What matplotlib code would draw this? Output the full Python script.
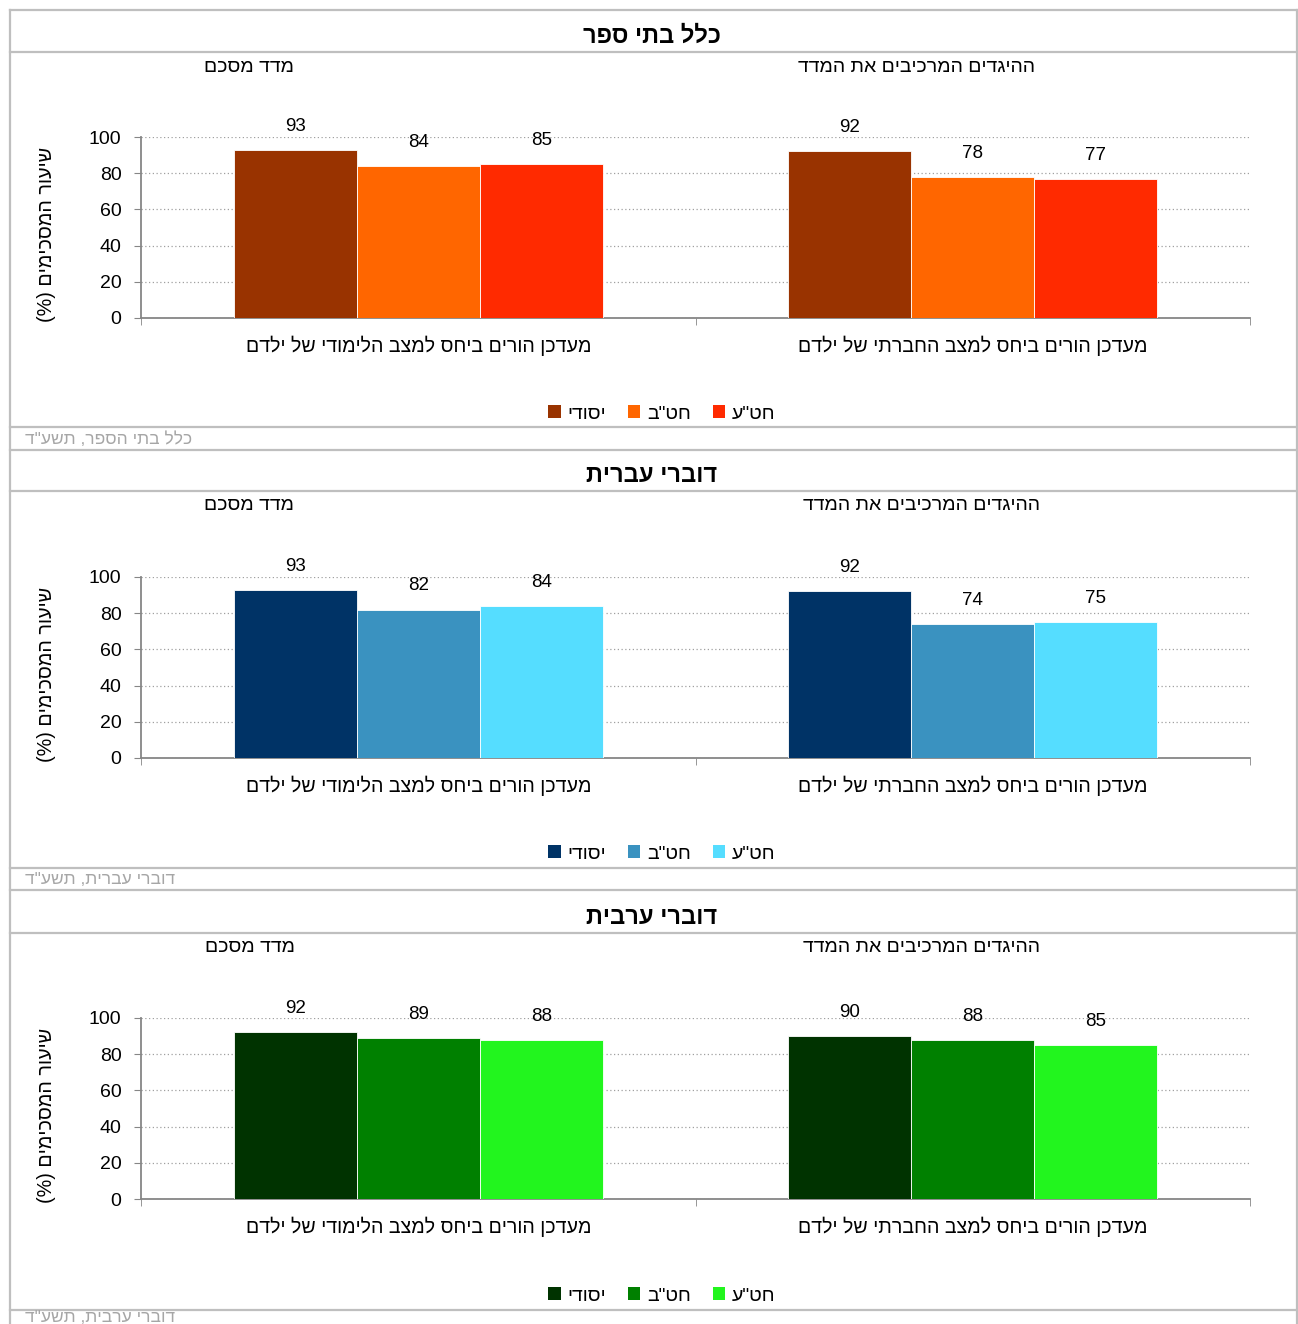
import matplotlib
matplotlib.use("Agg")
import matplotlib.pyplot as plt
from matplotlib.lines import Line2D
from matplotlib.patches import Patch
import numpy as np

plt.rcParams['font.family'] = ['Liberation Sans', 'DejaVu Sans']

# ---- data ----
categories = ["מעדכן הורים ביחס למצב הלימודי של ילדם",
              "מעדכן הורים ביחס למצב החברתי של ילדם"]
series_names = ["יסודי", 'חט"ב', 'חט"ע']
panel_titles = ["כלל בתי ספר", "דוברי עברית", "דוברי ערבית"]
footers = ['כלל בתי הספר, תשע"ד', 'דוברי עברית, תשע"ד', 'דוברי ערבית, תשע"ד']
sub_left = "מדד מסכם"
sub_right = "ההיגדים המרכיבים את המדד"
ylabel = "שיעור המסכימים (%)"

all_yesodi = [93, 92]
all_hatab = [84, 78]
all_hatae = [85, 77]

heb_yesodi = [93, 92]
heb_hatab = [82, 74]
heb_hatae = [84, 75]

arab_yesodi = [92, 90]
arab_hatab = [89, 88]
arab_hatae = [88, 85]

panel_values = [
    [all_yesodi, all_hatab, all_hatae],
    [heb_yesodi, heb_hatab, heb_hatae],
    [arab_yesodi, arab_hatab, arab_hatae],
]
panel_colors = [
    ["#993300", "#FF6600", "#FF2A00"],
    ["#003366", "#3A92C0", "#55DDFF"],
    ["#003300", "#008000", "#22F51E"],
]
yticks = [0, 20, 40, 60, 80, 100]


def rtl(s):
    r = s[::-1]
    return r.translate(str.maketrans("()", ")("))


W, H = 1298, 1324
fig = plt.figure(figsize=(W / 100, H / 100), dpi=100)


def fx(x):
    return x / W


def fy(y):
    return 1 - y / H


def hline(y, x0=10, x1=1297):
    fig.add_artist(Line2D([fx(x0), fx(x1)], [fy(y), fy(y)], color="#BFBFBF", lw=1.6))


# frame lines
fig.add_artist(Line2D([fx(10), fx(10)], [fy(10), fy(1324)], color="#BFBFBF", lw=1.6))
fig.add_artist(Line2D([fx(1297), fx(1297)], [fy(10), fy(1324)], color="#BFBFBF", lw=1.6))

panel_tops = [10, 450, 890]
title_lines = [52, 491, 933]
footer_lines = [427, 868, 1310]
title_y = [36, 476, 917]
footer_y = [439, 880, 1317]
ax_top = [137, 577, 1018]
ax_bot = [318, 758, 1199]
sub_y = [67, 506, 948]
sub_left_x = [249, 249, 250]
sub_right_x = [917, 921, 922]
legend_y = [414, 854, 1296]

ax_left, ax_right = 141, 1250
bw = 123 / 554.5
x = np.arange(len(categories))

for p in range(3):
    hline(panel_tops[p])
    hline(title_lines[p])
    hline(footer_lines[p])
    fig.text(fx(652), fy(title_y[p]), rtl(panel_titles[p]), ha="center", va="center",
             fontsize=17, fontweight="bold")
    fig.text(fx(25), fy(footer_y[p]), rtl(footers[p]), ha="left", va="center",
             fontsize=12.5, color="#A6A6A6")
    fig.text(fx(sub_left_x[p]), fy(sub_y[p]), rtl(sub_left), ha="center", va="center", fontsize=14)
    fig.text(fx(sub_right_x[p]), fy(sub_y[p]), rtl(sub_right), ha="center", va="center", fontsize=14)

    ax = fig.add_axes([fx(ax_left), fy(ax_bot[p]), (ax_right - ax_left) / W,
                       (ax_bot[p] - ax_top[p]) / H])
    for i, (vals, col) in enumerate(zip(panel_values[p], panel_colors[p])):
        bars = ax.bar(x + (i - 1) * bw, vals, width=bw, color=col, edgecolor="white",
                      linewidth=0.6, zorder=3)
        for b, v in zip(bars, vals):
            ax.annotate(str(v), (b.get_x() + b.get_width() / 2, v), xytext=(0, 17),
                        textcoords="offset points", ha="center", va="center", fontsize=13.5)
    ax.set_xlim(-0.5, 1.5)
    ax.set_ylim(0, 100)
    ax.set_yticks(yticks)
    ax.tick_params(axis="y", labelsize=14, length=5, color="#868686", pad=9)
    ax.set_xticks(x)
    ax.set_xticklabels([rtl(c) for c in categories], fontsize=14.1)
    ax.tick_params(axis="x", which="major", length=0, pad=13)
    ax.set_xticks([-0.5, 0.5, 1.5], minor=True)
    ax.tick_params(axis="x", which="minor", length=5, color="#868686")
    for s in ["top", "right"]:
        ax.spines[s].set_visible(False)
    for s in ["left", "bottom"]:
        ax.spines[s].set_color("#868686")
        ax.spines[s].set_linewidth(1.3)
    ax.grid(axis="y", linestyle=(0, (1, 2)), color="#A0A0A0", linewidth=0.9, zorder=0)
    ax.set_axisbelow(True)
    ax.text((47 - ax_left) / (ax_right - ax_left), 0.46,
            rtl(ylabel), rotation=90, ha="center", va="center", fontsize=14.2,
            transform=ax.transAxes)

    handles = [Patch(facecolor=c, edgecolor="none") for c in panel_colors[p]]
    fig.legend(handles, [rtl(s) for s in series_names], loc="center",
               bbox_to_anchor=(fx(662), fy(legend_y[p])), ncol=3, frameon=False,
               fontsize=14, handlelength=0.65, handleheight=0.65, handletextpad=0.35,
               columnspacing=1.1)

fig.savefig("out.png", dpi=100)
